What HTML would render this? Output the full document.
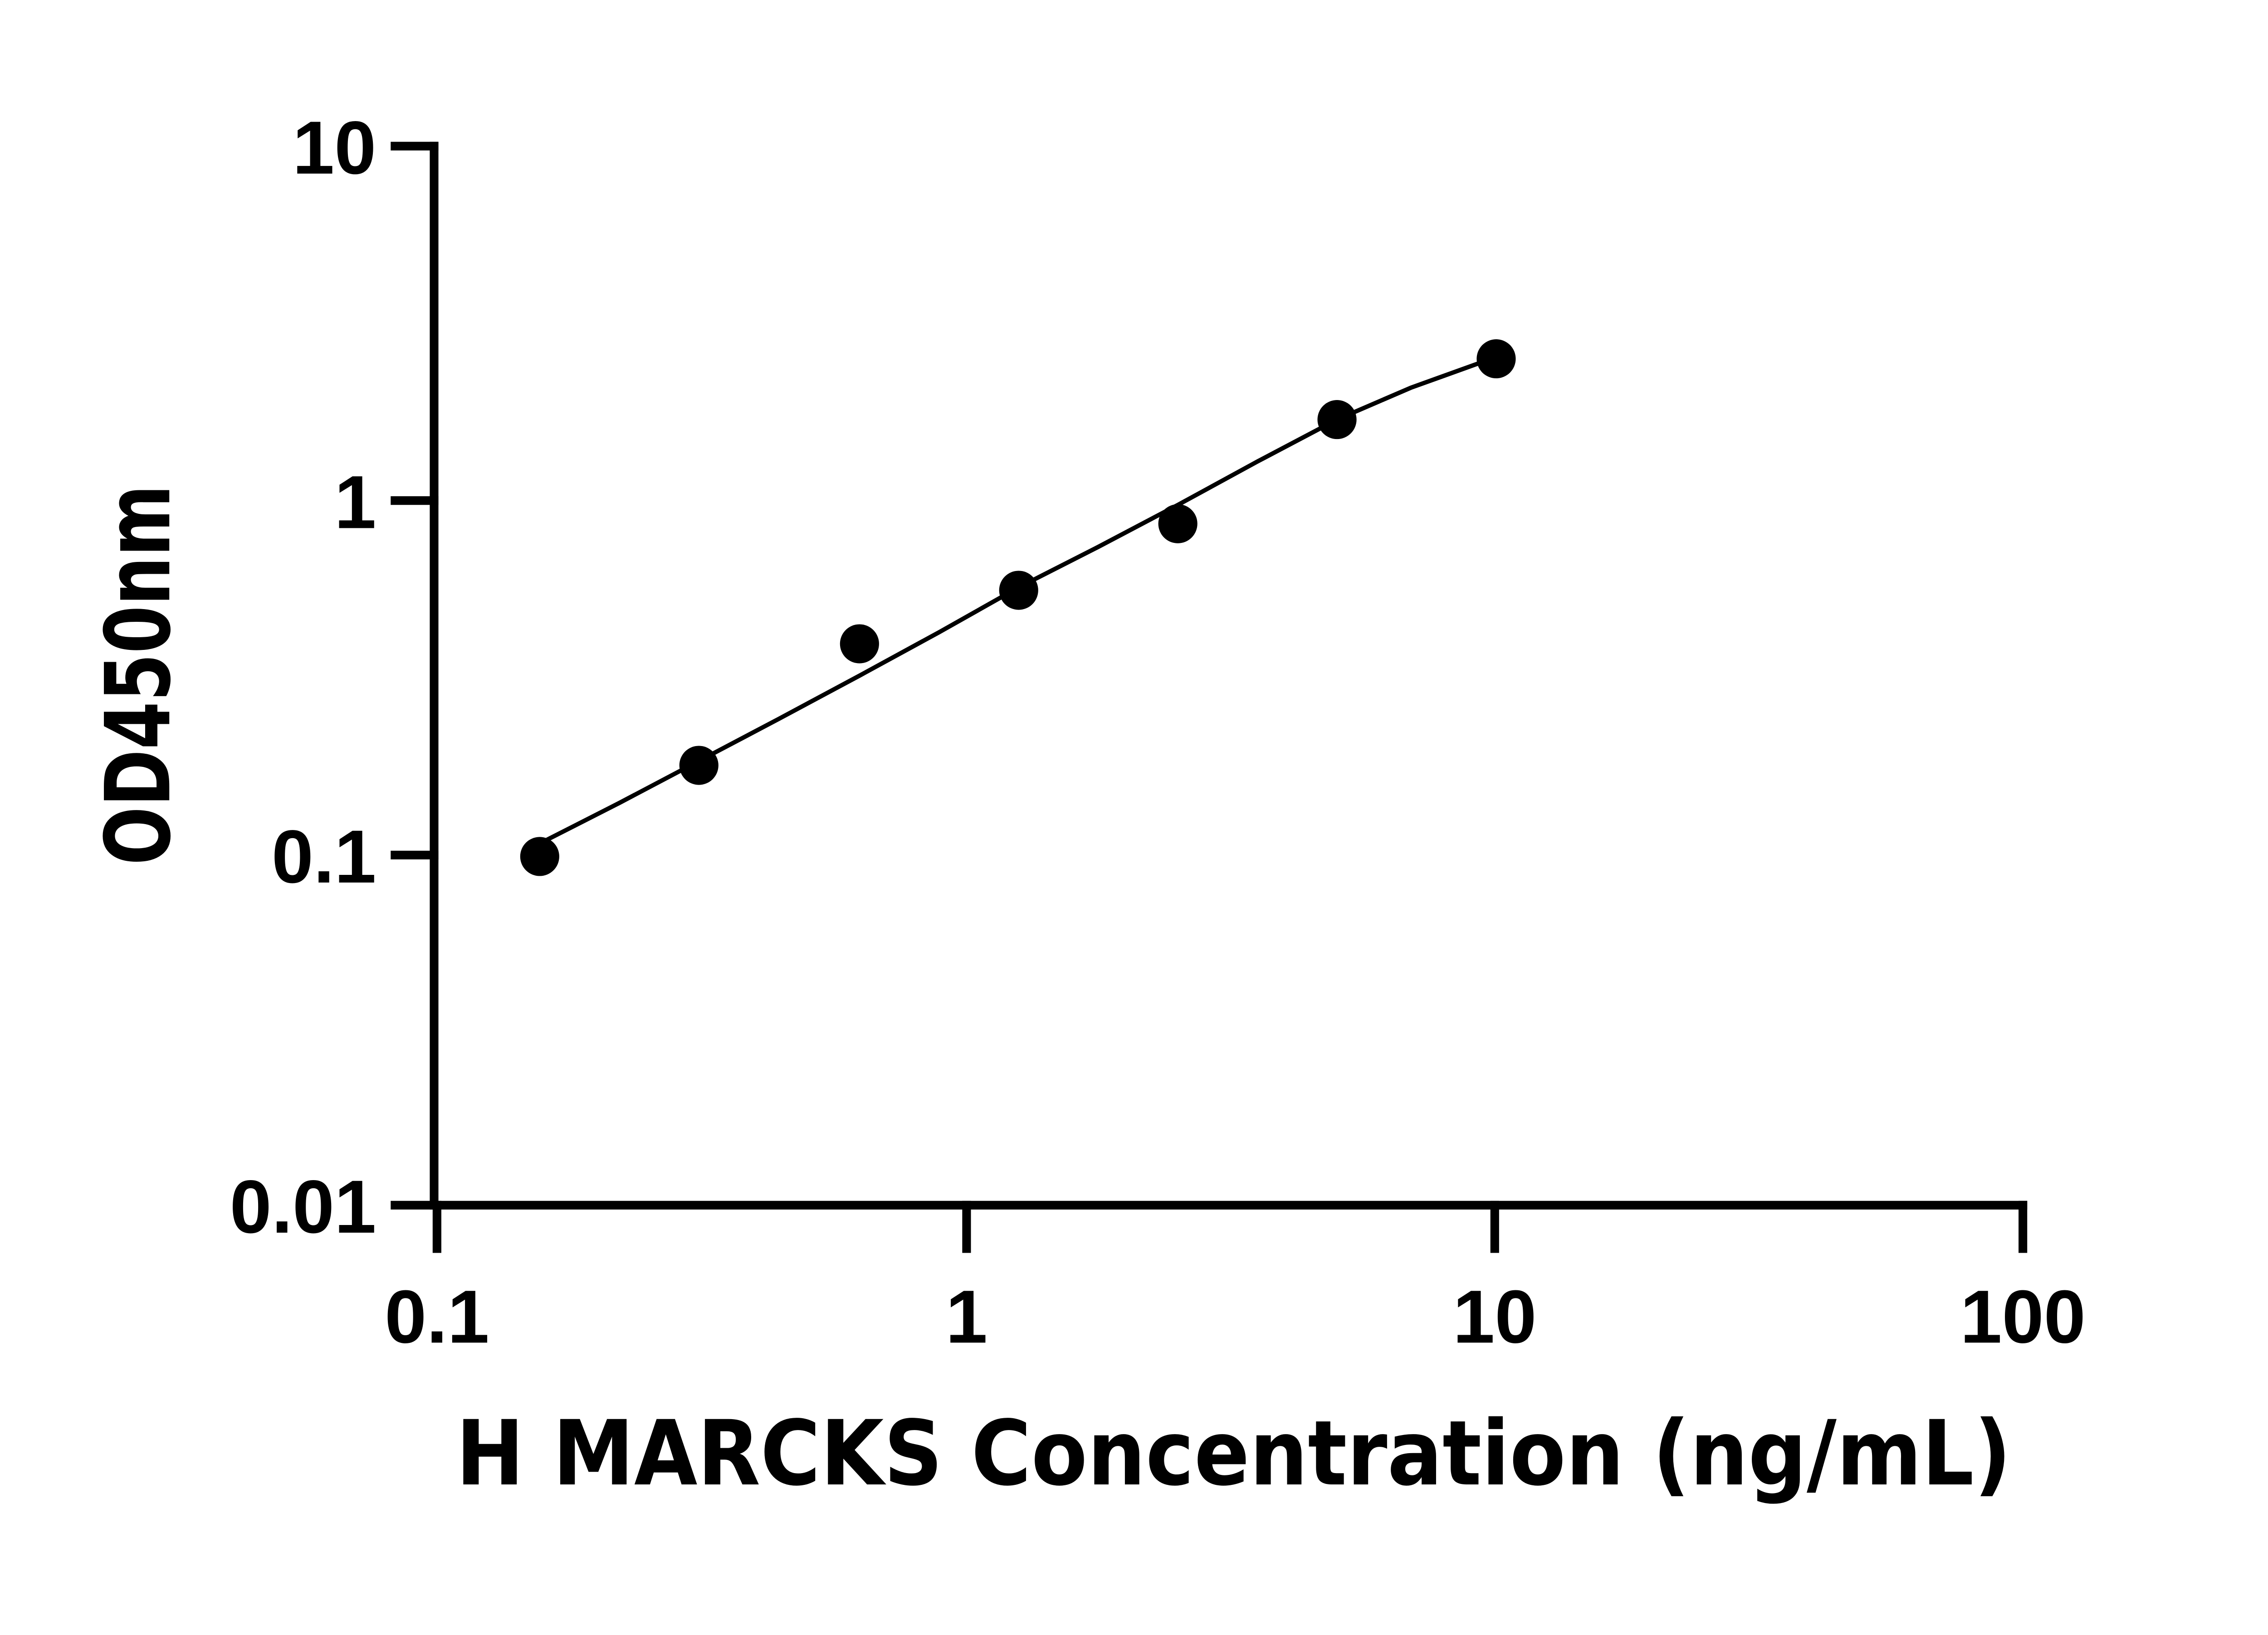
<!DOCTYPE html>
<html><head><style>html,body{margin:0;padding:0;background:#fff}</style></head>
<body>
<svg width="5142" height="3600" viewBox="0 0 5142 3600" xmlns="http://www.w3.org/2000/svg">
<g transform="scale(3.19)">
<g stroke="#000" stroke-width="6" fill="none" stroke-linecap="butt">
<line x1="300" y1="98" x2="300" y2="836"/>
<line x1="297" y1="833" x2="1401" y2="833"/>
<line x1="270" y1="101" x2="303" y2="101"/>
<line x1="270" y1="346" x2="303" y2="346"/>
<line x1="270" y1="591" x2="303" y2="591"/>
<line x1="270" y1="833" x2="303" y2="833"/>
<line x1="302" y1="830" x2="302" y2="866"/>
<line x1="668" y1="830" x2="668" y2="866"/>
<line x1="1033" y1="830" x2="1033" y2="866"/>
<line x1="1398" y1="830" x2="1398" y2="866"/>
</g>
<polyline fill="none" stroke="#000" stroke-width="3" points="373,583 428,555 483,526 538,497 594,467 649,437 704,406 759,378 814,349 869,319 924,290 975,268 1025,250"/>
<g fill="#000">
<circle cx="373" cy="592" r="13.5"/>
<circle cx="483" cy="529" r="13.5"/>
<circle cx="594" cy="445" r="13.5"/>
<circle cx="704" cy="408" r="13.5"/>
<circle cx="814" cy="362" r="13.5"/>
<circle cx="924" cy="290" r="13.5"/>
<circle cx="1034" cy="248" r="13.5"/>
</g>
<g font-family="Liberation Sans, sans-serif" font-weight="bold" font-size="52" fill="#000">
<g text-anchor="end">
<text x="260" y="120">10</text>
<text x="260" y="365">1</text>
<text x="260" y="610">0.1</text>
<text x="260" y="852">0.01</text>
</g>
<g text-anchor="middle">
<text x="302" y="928">0.1</text>
<text x="668" y="928">1</text>
<text x="1033" y="928">10</text>
<text x="1398" y="928">100</text>
</g>
</g>
<text x="315" y="1026" font-family="DejaVu Sans, sans-serif" font-weight="bold" font-size="62" textLength="1075" lengthAdjust="spacingAndGlyphs">H MARCKS Concentration (ng/mL)</text>
<text transform="translate(117,598) rotate(-90)" font-family="DejaVu Sans, sans-serif" font-weight="bold" font-size="62" textLength="263" lengthAdjust="spacingAndGlyphs">OD450nm</text>
</g>
</svg>
</body></html>
